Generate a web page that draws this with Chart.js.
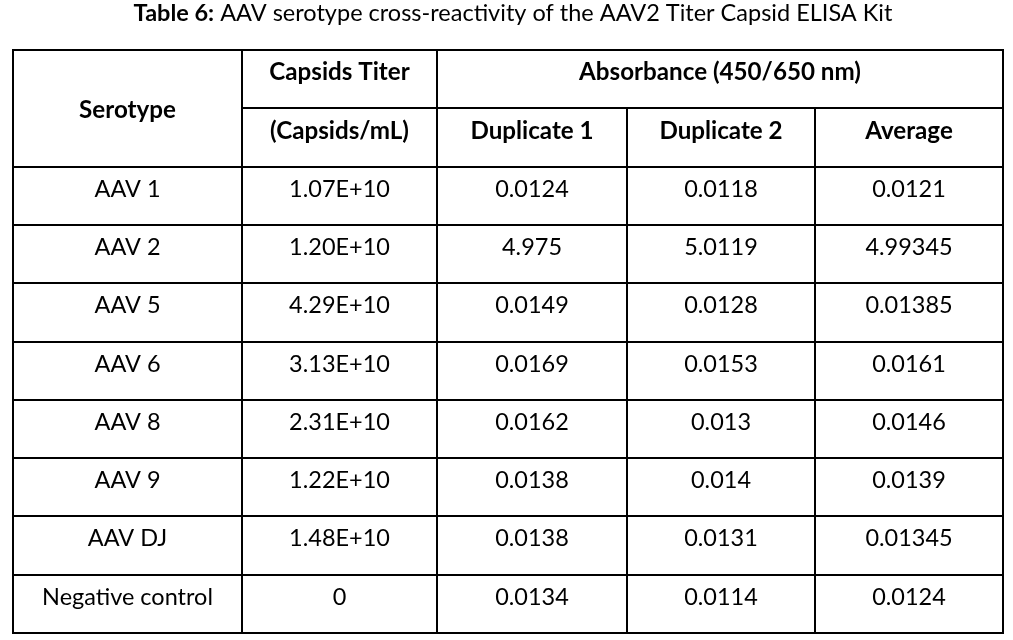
<!DOCTYPE html>
<html>
<head>
<meta charset="utf-8">
<script src="https://cdn.jsdelivr.net/npm/chart.js@4/dist/chart.umd.min.js"></script>
<style>
  html, body { margin: 0; padding: 0; background: #ffffff; }
  #wrap { width: 1013px; height: 640px; position: relative; }
</style>
</head>
<body>
<div id="wrap"><canvas id="c"></canvas></div>
<script>
// ---- data ----
const titleBold = 'Table 6:';
const titleRest = ' AAV serotype cross-reactivity of the AAV2 Titer Capsid ELISA Kit';
const headerTop = ['Serotype', 'Capsids Titer', 'Absorbance (450/650 nm)'];
const headerSub = ['(Capsids/mL)', 'Duplicate 1', 'Duplicate 2', 'Average'];
const serotypes = ['AAV 1', 'AAV 2', 'AAV 5', 'AAV 6', 'AAV 8', 'AAV 9', 'AAV DJ', 'Negative control'];
const capsidTiters = [1.07e10, 1.20e10, 4.29e10, 3.13e10, 2.31e10, 1.22e10, 1.48e10, 0];
const duplicate1 = [0.0124, 4.975, 0.0149, 0.0169, 0.0162, 0.0138, 0.0138, 0.0134];
const duplicate2 = [0.0118, 5.0119, 0.0128, 0.0153, 0.013, 0.014, 0.0131, 0.0114];
const averages = [0.0121, 4.99345, 0.01385, 0.0161, 0.0146, 0.0139, 0.01345, 0.0124];

// ---- layout (table units) ----
const colWidths = [229, 195, 190, 188, 188];
const colEdges = colWidths.reduce((a, w) => { a.push(a[a.length - 1] + w); return a; }, [0]);
const colCenters = colWidths.map((w, i) => colEdges[i] + w / 2);
const nRows = serotypes.length + 2;
const baselineFrac = 0.515;
const FONT = 'Lato, "Open Sans", "Noto Sans", sans-serif';

const fmtTiter = v => v === 0 ? '0' : v.toExponential(2).toUpperCase();
const fmtAbs = v => String(v);

const columns = [
  serotypes.map(String),
  capsidTiters.map(fmtTiter),
  duplicate1.map(fmtAbs),
  duplicate2.map(fmtAbs),
  averages.map(fmtAbs)
];

const datasets = columns.map((col, ci) => ({
  label: 'col' + ci,
  texts: col,
  data: col.map((t, ri) => ({ x: colCenters[ci], y: ri + 2 + baselineFrac })),
  pointRadius: 0,
  pointHoverRadius: 0,
  showLine: false
}));

// font sizing to match reference text widths
const mctx = document.createElement('canvas').getContext('2d');
function w(text, weight, size) { mctx.font = weight + ' ' + size + 'px ' + FONT; return mctx.measureText(text).width; }
const bodySize = 100 * 171 / w('Negative control', 'normal', 100);
const headSize = 100 * 282 / w('Absorbance (450/650 nm)', 'bold', 100);
const titleSize = 100 * 759 / (w(titleBold, 'bold', 100) + w(titleRest, 'normal', 100));

const tablePlugin = {
  id: 'tablePlugin',
  afterDatasetsDraw(chart) {
    const ctx = chart.ctx;
    const xs = chart.scales.x, ys = chart.scales.y;
    const X = v => xs.getPixelForValue(v);
    const Y = v => ys.getPixelForValue(v);
    ctx.save();
    // lines
    ctx.strokeStyle = '#000';
    ctx.lineWidth = 2;
    ctx.lineCap = 'square';
    const hline = (r, c0, c1) => { ctx.beginPath(); ctx.moveTo(X(colEdges[c0]), Math.round(Y(r))); ctx.lineTo(X(colEdges[c1]), Math.round(Y(r))); ctx.stroke(); };
    const vline = (c, r0, r1) => { ctx.beginPath(); ctx.moveTo(X(colEdges[c]), Math.round(Y(r0))); ctx.lineTo(X(colEdges[c]), Math.round(Y(r1))); ctx.stroke(); };
    hline(0, 0, 5);
    hline(1, 1, 5);
    for (let r = 2; r <= nRows; r++) hline(r, 0, 5);
    vline(0, 0, nRows); vline(1, 0, nRows); vline(2, 0, nRows); vline(5, 0, nRows);
    vline(3, 1, nRows); vline(4, 1, nRows);

    // header text
    ctx.fillStyle = '#000';
    ctx.textAlign = 'center';
    ctx.textBaseline = 'alphabetic';
    ctx.font = 'bold ' + headSize + 'px ' + FONT;
    ctx.fillText(headerTop[0], X(colCenters[0]), Y(1.16));
    ctx.fillText(headerTop[1], X(colCenters[1]), Y(baselineFrac));
    ctx.fillText(headerTop[2], X((colEdges[2] + colEdges[5]) / 2), Y(baselineFrac));
    headerSub.forEach((t, i) => ctx.fillText(t, X(colCenters[i + 1]), Y(1 + baselineFrac + 0.015)));

    // body text from dataset points
    ctx.font = 'normal ' + bodySize + 'px ' + FONT;
    chart.data.datasets.forEach((ds, di) => {
      chart.getDatasetMeta(di).data.forEach((pt, pi) => {
        ctx.fillText(ds.texts[pi], pt.x, pt.y);
      });
    });

    // title
    ctx.textAlign = 'left';
    ctx.font = 'bold ' + titleSize + 'px ' + FONT;
    const wb = ctx.measureText(titleBold).width;
    ctx.font = 'normal ' + titleSize + 'px ' + FONT;
    const wr = ctx.measureText(titleRest).width;
    const cx = (chart.chartArea.left + chart.chartArea.right) / 2 + 5;
    const x0 = cx - (wb + wr) / 2;
    ctx.font = 'bold ' + titleSize + 'px ' + FONT;
    ctx.fillText(titleBold, x0, 21);
    ctx.font = 'normal ' + titleSize + 'px ' + FONT;
    ctx.fillText(titleRest, x0 + wb, 21);
    ctx.restore();
  }
};

new Chart(document.getElementById('c'), {
  type: 'scatter',
  data: { datasets },
  options: {
    responsive: true,
    maintainAspectRatio: false,
    animation: false,
    events: [],
    layout: { padding: { left: 13, right: 10, top: 50, bottom: 7 } },
    plugins: { legend: { display: false }, tooltip: { enabled: false }, title: { display: false } },
    scales: {
      x: { type: 'linear', min: 0, max: colEdges[5], display: false },
      y: { type: 'linear', min: 0, max: nRows, reverse: true, display: false }
    }
  },
  plugins: [tablePlugin]
});
</script>
</body>
</html>
